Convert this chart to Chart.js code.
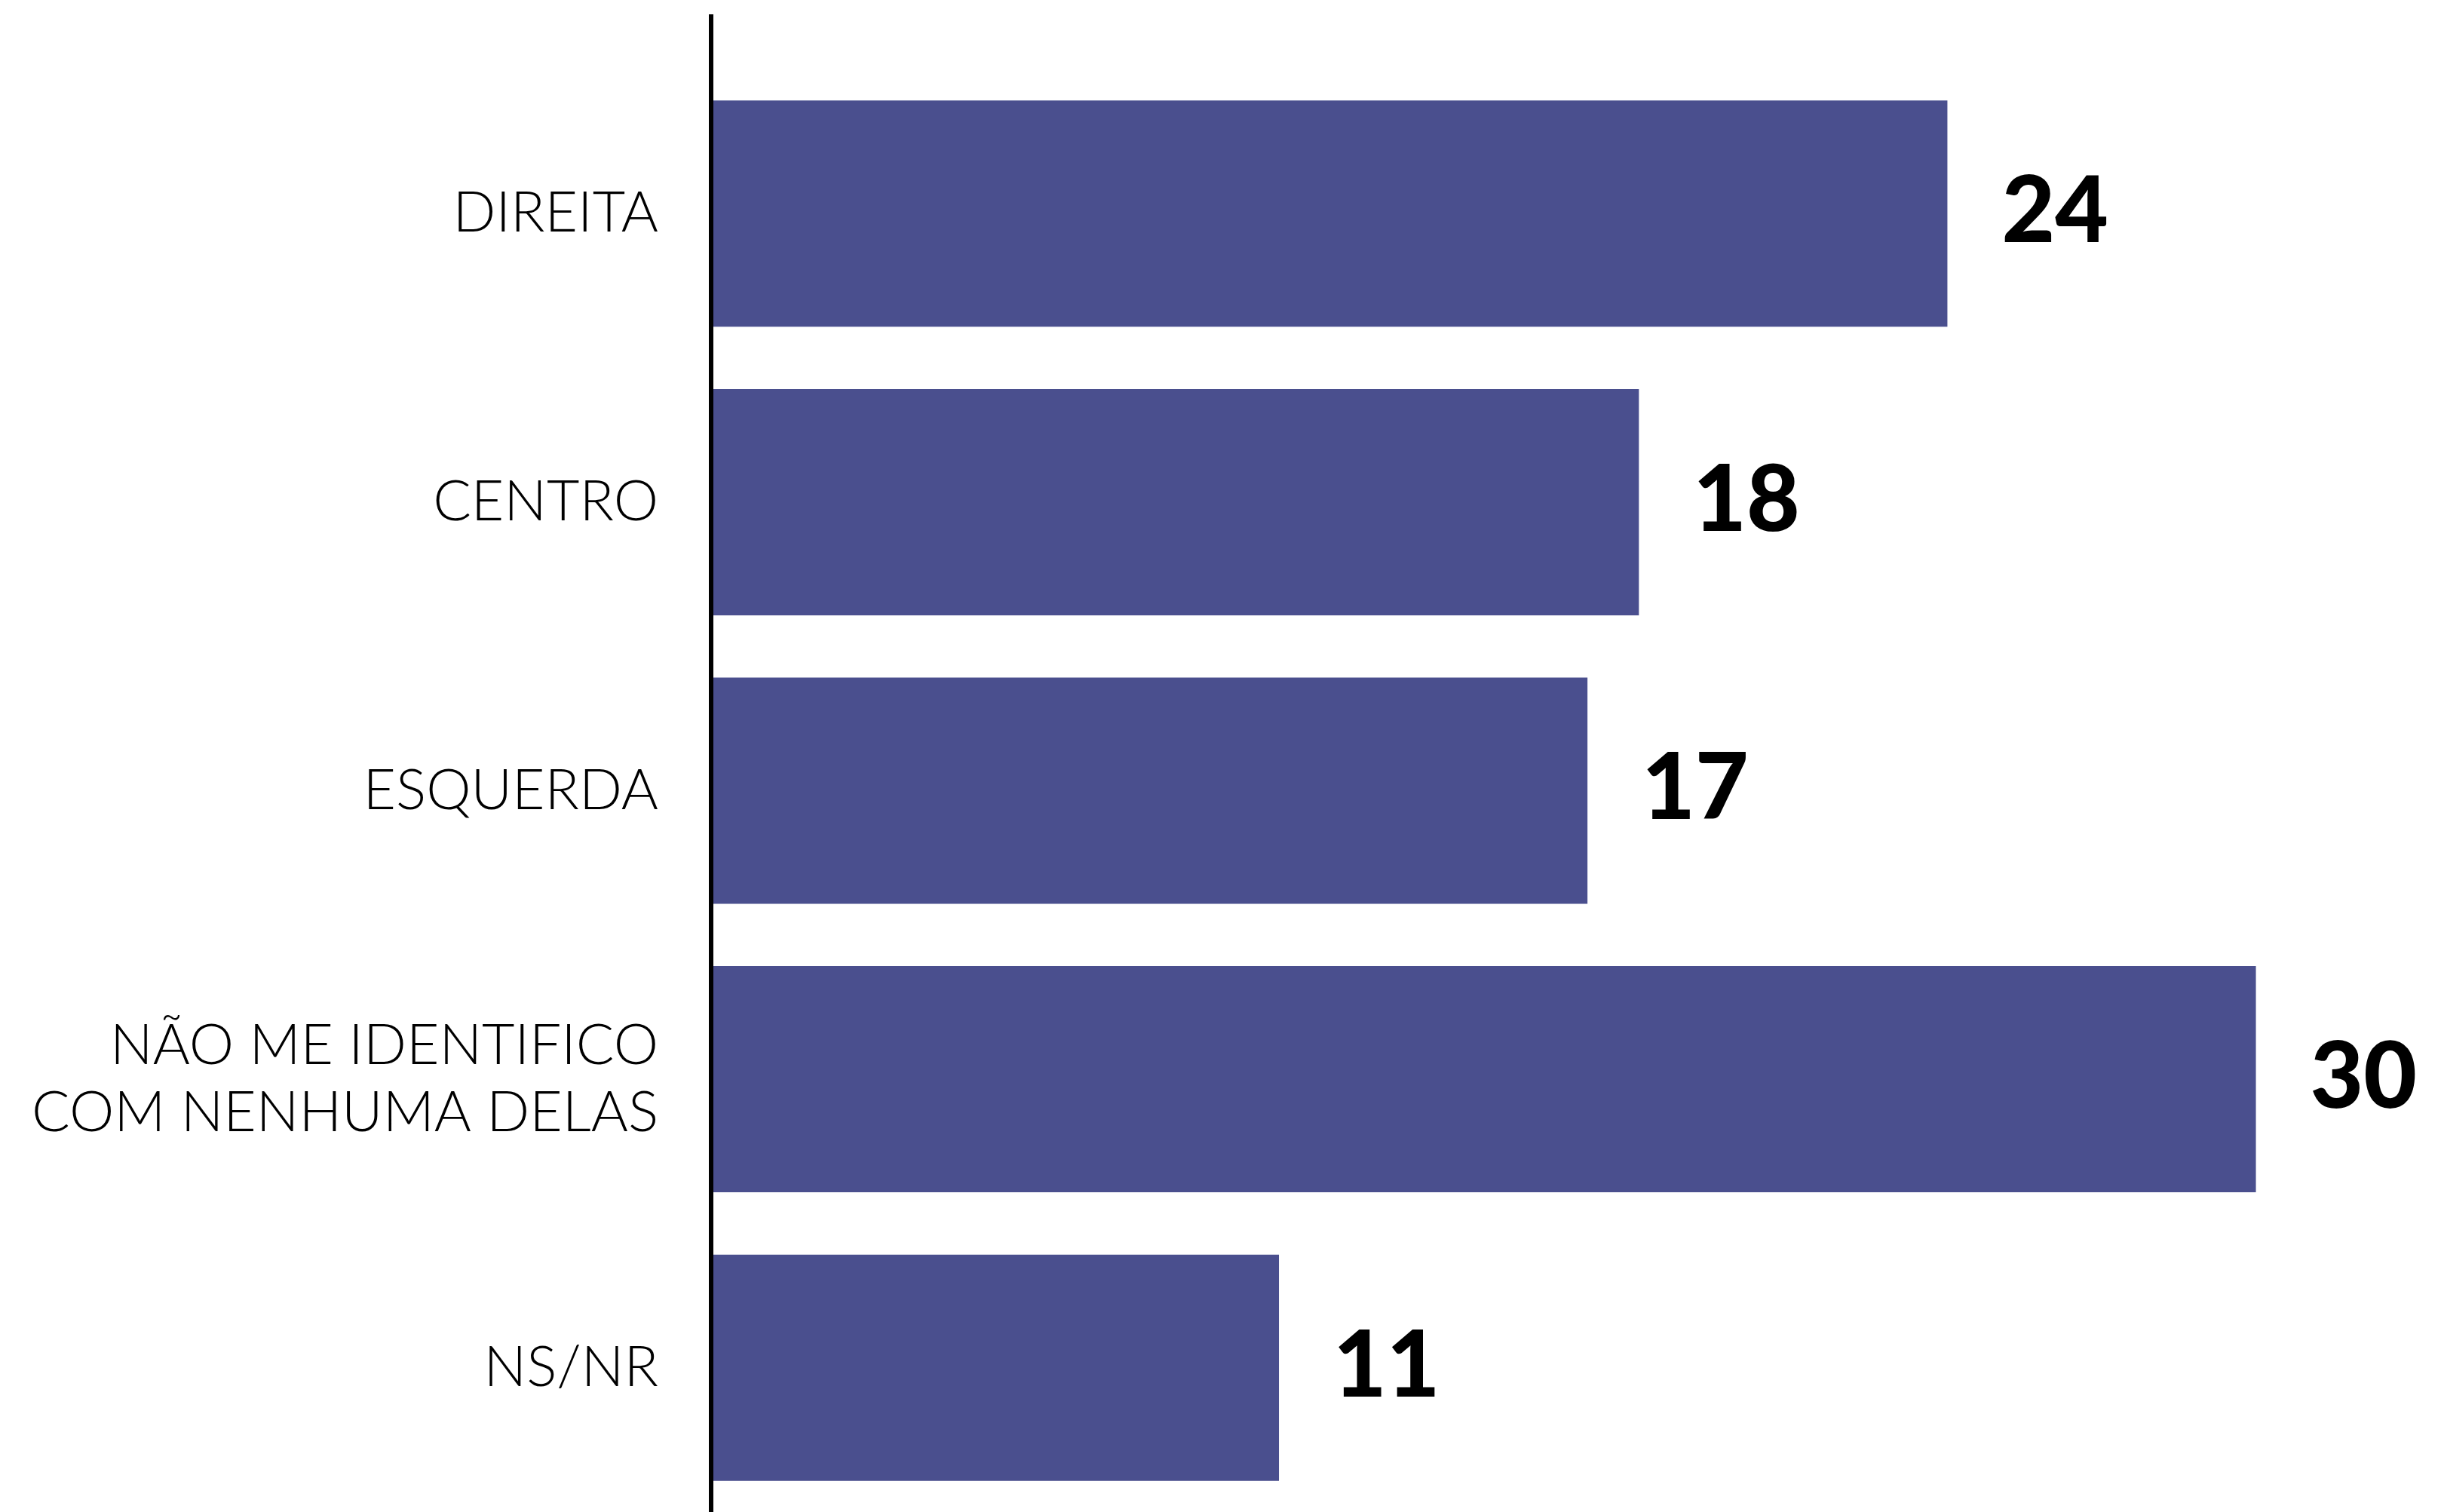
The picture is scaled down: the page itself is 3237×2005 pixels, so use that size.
<!DOCTYPE html>
<html lang="pt-BR">
<head>
<meta charset="utf-8">
<title>Identificação política</title>
<script src="https://cdn.jsdelivr.net/npm/chart.js@4/dist/chart.umd.min.js"></script>
<style>
  html, body { margin: 0; padding: 0; background: #ffffff; }
  #wrap { width: 3237px; height: 2005px; }
</style>
</head>
<body>
<div id="wrap"><canvas id="chart" width="3237" height="2005"></canvas></div>
<script>
// Categorias e percentuais
const categories = [
  'DIREITA',
  'CENTRO',
  'ESQUERDA',
  ['NÃO ME IDENTIFICO', 'COM NENHUMA DELAS'],
  'NS/NR'
];
const values = [24, 18, 17, 30, 11];

const barColor = '#4a4f8e';
const labelFont = "'Lato', 'Noto Sans', sans-serif";
const valueFont = "'Lato', 'Noto Sans', sans-serif";

// Rótulos de valor à direita de cada barra
const valueLabels = {
  id: 'valueLabels',
  afterDatasetsDraw(chart) {
    const ctx = chart.ctx;
    const meta = chart.getDatasetMeta(0);
    const size = 122;
    ctx.save();
    ctx.fillStyle = '#000000';
    ctx.font = `900 ${size}px ${valueFont}`;
    ctx.textAlign = 'left';
    ctx.textBaseline = 'alphabetic';
    meta.data.forEach((bar, i) => {
      ctx.fillText(String(values[i]), bar.x + 72, bar.y + size * 0.72 / 2 - 6);
    });
    ctx.restore();
  }
};

// Linha vertical do eixo, estendida acima da área das barras
const axisLine = {
  id: 'axisLine',
  afterDraw(chart) {
    const ctx = chart.ctx;
    const x = chart.scales.x.getPixelForValue(0) - 3;
    ctx.save();
    ctx.strokeStyle = '#000000';
    ctx.lineWidth = 6;
    ctx.beginPath();
    ctx.moveTo(x, 19);
    ctx.lineTo(x, chart.height);
    ctx.stroke();
    ctx.restore();
  }
};

new Chart(document.getElementById('chart'), {
  type: 'bar',
  data: {
    labels: categories,
    datasets: [{
      data: values,
      backgroundColor: barColor,
      borderWidth: 0,
      barPercentage: 1,
      categoryPercentage: 0.784
    }]
  },
  options: {
    indexAxis: 'y',
    responsive: false,
    animation: false,
    layout: { padding: { top: 92, right: 0, bottom: 0, left: 0 } },
    plugins: {
      legend: { display: false },
      tooltip: { enabled: false }
    },
    scales: {
      x: {
        display: false,
        min: 0,
        max: 33.6
      },
      y: {
        afterFit(scale) {
          scale.width = 946;
          scale.paddingTop = 0;
          scale.paddingBottom = 0;
        },
        grid: { display: false, drawTicks: false },
        border: { display: false },
        ticks: {
          padding: 73,
          color: '#000000',
          font: { family: labelFont, size: 75, weight: 300, lineHeight: 1.19 }
        }
      }
    }
  },
  plugins: [valueLabels, axisLine]
});
</script>
</body>
</html>
